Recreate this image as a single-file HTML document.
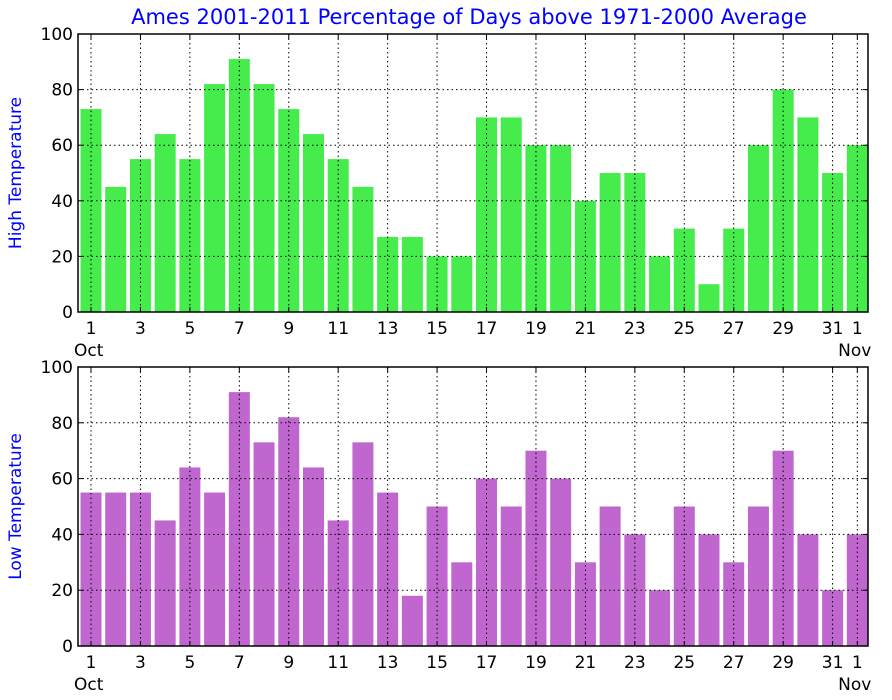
<!DOCTYPE html>
<html><head><meta charset="utf-8"><style>
body{margin:0;background:#fff;}
svg{display:block;font-family:"DejaVu Sans","Liberation Sans",sans-serif;}
</style></head><body>
<svg id="c" width="892" height="700">
<text x="469" y="24" text-anchor="middle" font-size="21" fill="#0000ff">Ames 2001-2011 Percentage of Days above 1971-2000 Average</text>
</svg>
<script>
const highValues=[73,45,55,64,55,82,91,82,73,64,55,45,27,27,20,20,70,70,60,60,40,50,50,20,30,10,30,60,80,70,50,60];
const lowValues=[55,55,55,45,64,55,91,73,82,64,45,73,55,18,50,30,60,50,70,60,30,50,40,20,50,40,30,50,70,40,20,40];
const dayLabels=["1","2","3","4","5","6","7","8","9","10","11","12","13","14","15","16","17","18","19","20","21","22","23","24","25","26","27","28","29","30","31","1"];
const yTicks=[0,20,40,60,80,100];
const NS="http://www.w3.org/2000/svg";
const svg=document.getElementById('c');
const L=78,R=868;
function x(i){return 91+i*24.72;}
function mk(t,a,p){const e=document.createElementNS(NS,t);for(const k in a)e.setAttribute(k,a[k]);(p||svg).appendChild(e);return e;}
function panel(top,bot,vals,color,label,nm){
  const y=v=>bot-(bot-top)*v/100;
  const g=mk('g',{});
  
  
  vals.forEach((v,i)=>{
    const r=mk('rect',{x:x(i)-10.5,y:y(v),width:21,height:bot-y(v),fill:color},g);
    
    
  });
  yTicks.forEach(t=>{
    if(t>0&&t<100){const l=mk('line',{x1:L,x2:R,y1:y(t),y2:y(t),stroke:'#000','stroke-dasharray':'1.5,3','stroke-width':1},g);
    }
    mk('line',{x1:L,x2:L+5,y1:y(t),y2:y(t),stroke:'#000'},g);
    mk('line',{x1:R-5,x2:R,y1:y(t),y2:y(t),stroke:'#000'},g);
    const tx=mk('text',{x:L-5,y:y(t)+6,'text-anchor':'end','font-size':17},g);tx.textContent=t;
    
  });
  dayLabels.forEach((d,i)=>{
    if(i%2!==0&&i!==31)return;
    const l=mk('line',{x1:x(i),x2:x(i),y1:top,y2:bot,stroke:'#000','stroke-dasharray':'1.5,3'},g);
    
    mk('line',{x1:x(i),x2:x(i),y1:bot,y2:bot-5,stroke:'#000'},g);
    mk('line',{x1:x(i),x2:x(i),y1:top,y2:top+5,stroke:'#000'},g);
    const tx=mk('text',{x:x(i),y:bot+22,'text-anchor':'middle','font-size':17},g);tx.textContent=d;
    
  });
  let t=mk('text',{x:x(0)-17,y:bot+44,'font-size':17},g);t.textContent='Oct';
  
  t=mk('text',{x:x(31)+14,y:bot+44,'font-size':17,'text-anchor':'end'},g);t.textContent='Nov';
  
  const f=mk('rect',{x:L,y:top,width:R-L,height:bot-top,fill:'none',stroke:'#000','stroke-width':1.5},g);
  
  const yl=mk('text',{x:0,y:0,'font-size':17,fill:'#0000ff','text-anchor':'middle',transform:`translate(21,${(top+bot)/2}) rotate(-90)`},g);
  yl.textContent=label;
  
}
panel(34,312,highValues,'#46ec4c','High Temperature','high');
panel(367,646,lowValues,'#c066cf','Low Temperature','low');
</script>
</body></html>
